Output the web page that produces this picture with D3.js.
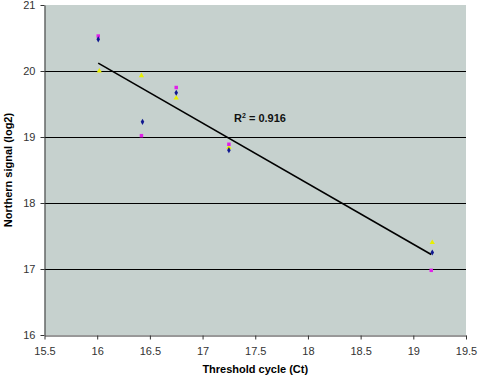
<!DOCTYPE html>
<html><head><meta charset="utf-8">
<script src="https://cdn.jsdelivr.net/npm/d3@7"></script>
<style>body{margin:0;background:#fff}svg{display:block;font-family:"Liberation Sans",Arial,sans-serif}</style>
</head><body><svg id="c" width="479" height="379"></svg>
<script>
const xTicks = [15.5,16,16.5,17,17.5,18,18.5,19,19.5];
const yTicks = [16,17,18,19,20,21];
const ctBlue = [16.01,16.43,16.75,17.25,19.18];
const sigBlue = [20.48,19.23,19.67,18.80,17.25];
const ctPink = [16.01,16.42,16.75,17.25,19.17];
const sigPink = [20.53,19.02,19.75,18.89,16.98];
const ctYellow = [16.02,16.42,16.75,17.25,19.18];
const sigYellow = [20.00,19.93,19.59,18.84,17.40];
const trendX = [16.01,19.17];
const trendY = [20.12,17.22];
const r2Label = "0.916";

const svg = d3.select("#c");
const L=44.5,R=466,T=5,B=335;
const x = d3.scaleLinear().domain([15.5,19.5]).range([L,R]);
const y = d3.scaleLinear().domain([16,21]).range([B,T]);

svg.append("rect").attr("x",L).attr("y",T).attr("width",R-L).attr("height",B-T).attr("fill","#c6d1ce");

svg.append("g").selectAll("line").data(yTicks.filter(d=>d>16&&d<21)).join("line")
  .attr("x1",L).attr("x2",R).attr("y1",d=>Math.round(y(d))+0.5).attr("y2",d=>Math.round(y(d))+0.5)
  .attr("stroke","#000").attr("stroke-width",1);

const xa = svg.append("g").attr("transform",`translate(0,${B+0.5})`)
  .call(d3.axisBottom(x).tickValues(xTicks).tickFormat(d3.format("")).tickSize(4).tickSizeOuter(0));
const ya = svg.append("g").attr("transform",`translate(${L},0)`)
  .call(d3.axisLeft(y).tickValues(yTicks).tickFormat(d3.format("")).tickSize(4).tickSizeOuter(0));
[xa,ya].forEach(a=>{
  a.selectAll("path,line").attr("stroke","#333");
  a.selectAll("text").attr("fill","#333").style("font-size","11px").style("font-family","'Liberation Sans',Arial,sans-serif");
});
xa.selectAll("text").attr("dy","1.1em");
ya.selectAll("text").attr("dx","-2px");

svg.append("line").attr("x1",x(trendX[0])).attr("y1",y(trendY[0])).attr("x2",x(trendX[1])).attr("y2",y(trendY[1]))
  .attr("stroke","#000").attr("stroke-width",1.6);

const sym = (type,size)=>d3.symbol().type(type).size(size);
svg.append("g").selectAll("path").data(ctYellow.map((c,i)=>[c,sigYellow[i]])).join("path")
  .attr("transform",d=>`translate(${x(d[0])},${y(d[1])})`).attr("d",sym(d3.symbolTriangle,12)()).attr("fill","#e8f000");
svg.append("g").selectAll("path").data(ctPink.map((c,i)=>[c,sigPink[i]])).join("path")
  .attr("transform",d=>`translate(${x(d[0])},${y(d[1])})`).attr("d",sym(d3.symbolSquare,12)()).attr("fill","#e020e8");
svg.append("g").selectAll("path").data(ctBlue.map((c,i)=>[c,sigBlue[i]])).join("path")
  .attr("transform",d=>`translate(${x(d[0])},${y(d[1])})`).attr("d",sym(d3.symbolDiamond,11)()).attr("fill","#101890");

const t = svg.append("text").attr("x",234).attr("y",122).style("font-size","11px").style("font-weight","bold").attr("fill","#111");
t.append("tspan").text("R");
t.append("tspan").text("2").attr("dy","-4").style("font-size","7px");
t.append("tspan").text(" = "+r2Label).attr("dy","4");

svg.append("text").attr("x",(L+R)/2).attr("y",373).attr("text-anchor","middle")
  .style("font-size","11px").style("font-weight","bold").text("Threshold cycle (Ct)");
svg.append("text").attr("transform",`translate(12,${(T+B)/2}) rotate(-90)`).attr("text-anchor","middle")
  .style("font-size","11px").style("font-weight","bold").text("Northern signal (log2)");
</script></body></html>
